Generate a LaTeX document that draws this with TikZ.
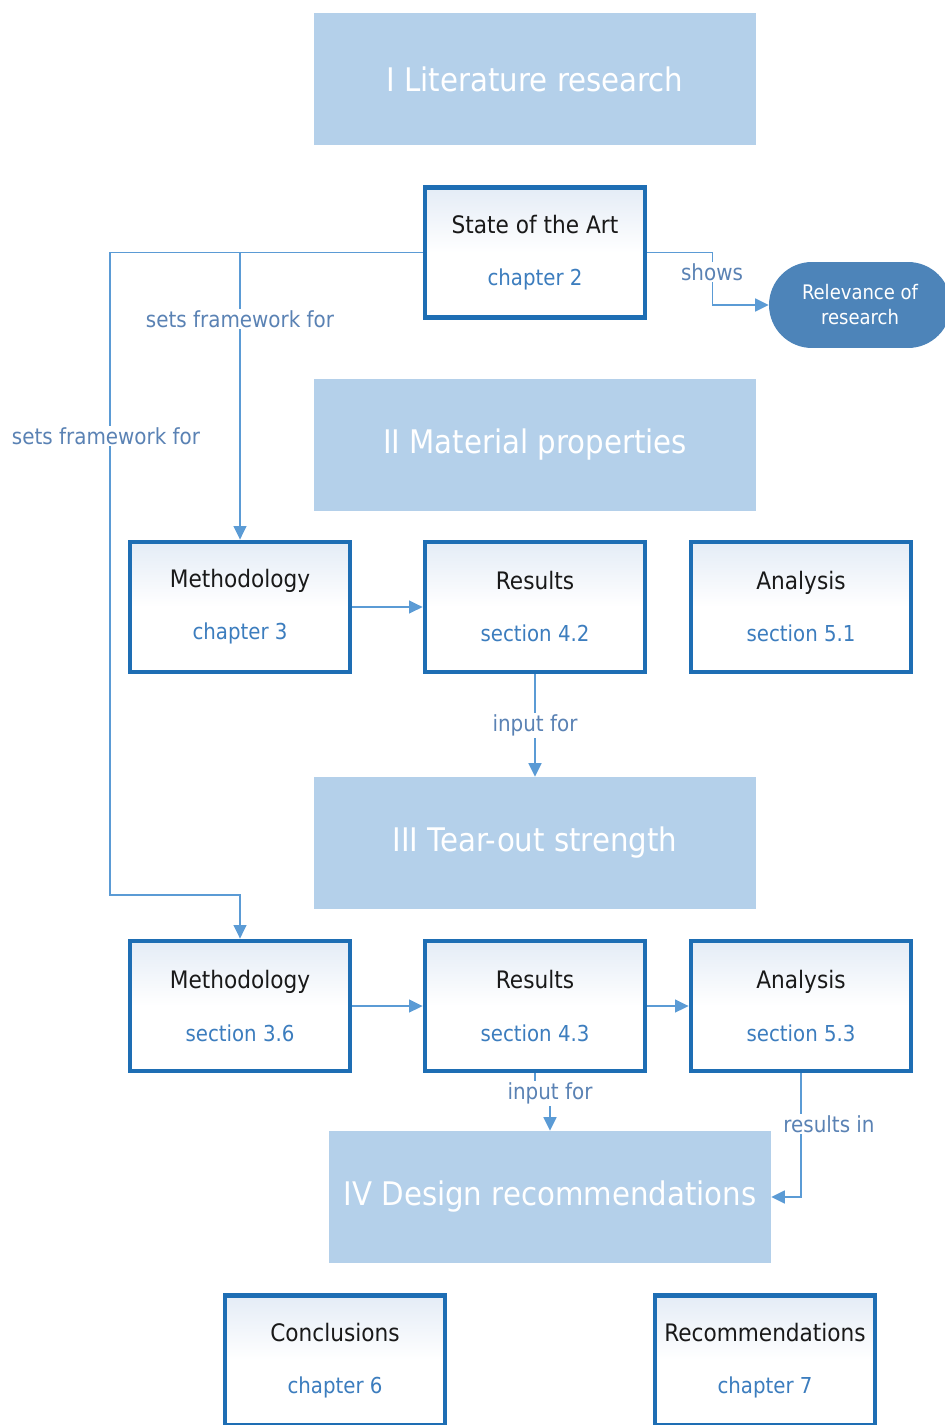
\documentclass[tikz,border=0pt]{standalone}
\usepackage{fontspec}
\setmainfont{DejaVu Sans Condensed}
\usepackage{xcolor}
\usepackage{tikz}
\usetikzlibrary{arrows.meta,positioning}
\definecolor{bandblue}{RGB}{180,208,234}
\definecolor{framblue}{RGB}{30,110,180}
\definecolor{lineblue}{RGB}{91,155,213}
\definecolor{lblblue}{RGB}{90,130,180}
\definecolor{subblue}{RGB}{60,125,190}
\definecolor{relblue}{RGB}{77,132,185}
\definecolor{boxtop}{RGB}{228,236,246}
\newcommand{\chapbox}[2]{#1\\{\color{subblue}\fontsize{12.5}{15}\selectfont #2}}

\begin{document}
\begin{tikzpicture}[x=0.02cm,y=-0.02cm,>={Triangle[length=2.7mm,width=2.6mm]},
  band/.style={fill=bandblue,minimum width=8.84cm,minimum height=2.64cm,text=white,font=\fontsize{18.5}{22}\selectfont},
  chap/.style={draw=framblue,line width=2.8pt,top color=boxtop,bottom color=white,middle color=white,minimum width=4.4cm,minimum height=2.6cm,align=center,text=black!90,font=\fontsize{13.7}{29.6}\selectfont},
  rel/.style={fill=relblue,rounded corners=0.86cm,minimum width=3.64cm,minimum height=1.72cm,align=center,text=white,font=\fontsize{11.4}{14.2}\selectfont},
  conn/.style={draw=lineblue,line width=0.8pt,->},
  lbl/.style={fill=white,text=lblblue,inner sep=1pt,font=\fontsize{12.6}{15}\selectfont}]
\useasboundingbox (0,0) rectangle (944,1425);
% part I
\node[band] (B1) at (535,79) {I Literature research};
\node[chap] (SotA) at (535,252.5) {\chapbox{State of the Art}{chapter 2}};
\node[rel] (Rel) at (860,305) {Relevance of\\research};
% part II
\node[band] (B2) at (535,445) {II Material properties};
\node[chap] (M3)  at (240,607) {\chapbox{Methodology}{chapter 3}};
\node[chap] (R42) at (535,607) {\chapbox{Results}{section 4.2}};
\node[chap] (A51) at (801,607) {\chapbox{Analysis}{section 5.1}};
% part III
\node[band] (B3) at (535,843) {III Tear-out strength};
\node[chap] (M36) at (240,1006) {\chapbox{Methodology}{section 3.6}};
\node[chap] (R43) at (535,1006) {\chapbox{Results}{section 4.3}};
\node[chap] (A53) at (801,1006) {\chapbox{Analysis}{section 5.3}};
% part IV
\node[band] (B4) at (550,1197) {IV Design recommendations};
\node[chap] (C6) at (335,1360.5) {\chapbox{Conclusions}{chapter 6}};
\node[chap] (R7) at (765,1360.5) {\chapbox{Recommendations}{chapter 7}};
% connectors
\draw[conn] (SotA.east) -- ++(65,0) |- (Rel.west);
\draw[conn] (SotA.west) -| (110,895) -| (M36.north);
\draw[conn] (M3.north |- SotA.west) -- (M3.north);
\draw[conn] (M3) -- (R42);
\draw[conn] (R42) -- node[lbl] (in1) {input for} (B3);
\draw[conn] (M36) -- (R43);
\draw[conn] (R43) -- (A53);
\draw[conn] (R43.south) -- ++(0,20) -| node[lbl,pos=0.5] (in2) {input for} (B4.north);
\draw[conn] (A53.south) |- (B4.east);
% labels over lines
\node[lbl] (shw) at (712,272) {shows};
\node[lbl] (sf1) at (240,319) {sets framework for};
\node[lbl] (sf2) at (106,436) {sets framework for};
\node[lbl] (res) at (829,1124) {results in};
\end{tikzpicture}
\end{document}
